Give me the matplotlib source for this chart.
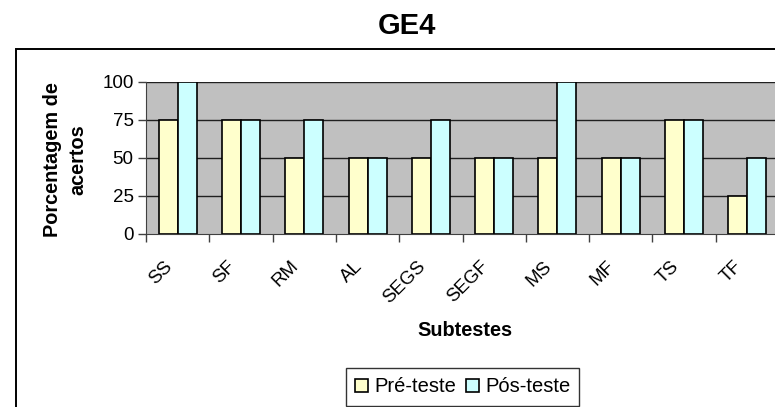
import matplotlib
matplotlib.use("Agg")
import matplotlib.pyplot as plt
import matplotlib.transforms as mtransforms
import numpy as np
from matplotlib.patches import Rectangle

plt.rcParams['font.family'] = ['Liberation Sans', 'DejaVu Sans']

categories = ["SS", "SF", "RM", "AL", "SEGS", "SEGF", "MS", "MF", "TS", "TF"]
pre_teste = [75, 75, 50, 50, 50, 50, 50, 50, 75, 25]
pos_teste = [100, 75, 75, 50, 75, 50, 100, 50, 75, 50]
series_names = ["Pré-teste", "Pós-teste"]
y_ticks = [0, 25, 50, 75, 100]

W, H = 775, 407
fig = plt.figure(figsize=(W / 100, H / 100), dpi=100)
fig.patch.set_facecolor('white')

# outer chart frame (extends beyond right/bottom edges)
frame = Rectangle((16 / W, -0.1), 1.2, (H - 49) / H + 0.1, transform=fig.transFigure,
                  fill=False, edgecolor='black', linewidth=1.4, clip_on=False)
fig.add_artist(frame)

ax = fig.add_axes([146 / W, (H - 234) / H, (779 - 146) / W, (234 - 82) / H])
ax.set_facecolor('#C0C0C0')

x = np.arange(len(categories))
bw = 0.3
ax.bar(x + 0.35, pre_teste, width=bw, color='#FFFFCC', edgecolor='black', linewidth=1.2,
       label=series_names[0], zorder=3)
ax.bar(x + 0.65, pos_teste, width=bw, color='#CCFFFF', edgecolor='black', linewidth=1.2,
       label=series_names[1], zorder=3)

ax.set_xlim(0, len(categories))
ax.set_ylim(0, 100)
ax.set_yticks(y_ticks)
ax.set_yticklabels([str(v) for v in y_ticks], fontsize=13.5)
for v in y_ticks[1:]:
    ax.axhline(v, color='#202020', linewidth=1.0, zorder=1)

ax.set_xticks(np.arange(len(categories)) + 0.5)
ax.set_xticklabels(categories, rotation=45, ha='right', rotation_mode='anchor', fontsize=13.5)
ax.set_xticks(np.arange(len(categories) + 1), minor=True)
ax.tick_params(axis='x', which='major', length=0, pad=17)
ax.tick_params(axis='x', which='minor', length=6, width=1, color='#404040', direction='out')
ax.tick_params(axis='y', length=6, width=1, color='#404040', direction='out', pad=3)

offset = mtransforms.ScaledTranslation(-14 / 100, 0, fig.dpi_scale_trans)
for lab in ax.get_xticklabels():
    lab.set_transform(lab.get_transform() + offset)

for s in ['top', 'right']:
    ax.spines[s].set_visible(False)
ax.spines['left'].set_color('#404040')
ax.spines['bottom'].set_color('#404040')
ax.spines['left'].set_zorder(4)
ax.spines['bottom'].set_zorder(4)

fig.text(407 / W, 1 - 26 / H, "GE4", fontsize=21, fontweight='bold', ha='center', va='center')
fig.text(65 / W, 1 - 160 / H, "Porcentagem de\nacertos", fontsize=14.3, fontweight='bold',
         rotation=90, ha='center', va='center', multialignment='center', linespacing=1.4)
fig.text(465 / W, 1 - 331 / H, "Subtestes", fontsize=14.3, fontweight='bold',
         ha='center', va='center')

leg = fig.legend(loc='center', bbox_to_anchor=(462.5 / W, 1 - 387 / H), ncol=2,
                 fontsize=14.5, frameon=True, fancybox=False, shadow=False,
                 handlelength=0.65, handleheight=0.65, handletextpad=0.3,
                 columnspacing=0.5, borderpad=0.45, borderaxespad=0)
leg.get_frame().set_edgecolor('black')
leg.get_frame().set_linewidth(1.0)

fig.savefig("out.png", dpi=100)
